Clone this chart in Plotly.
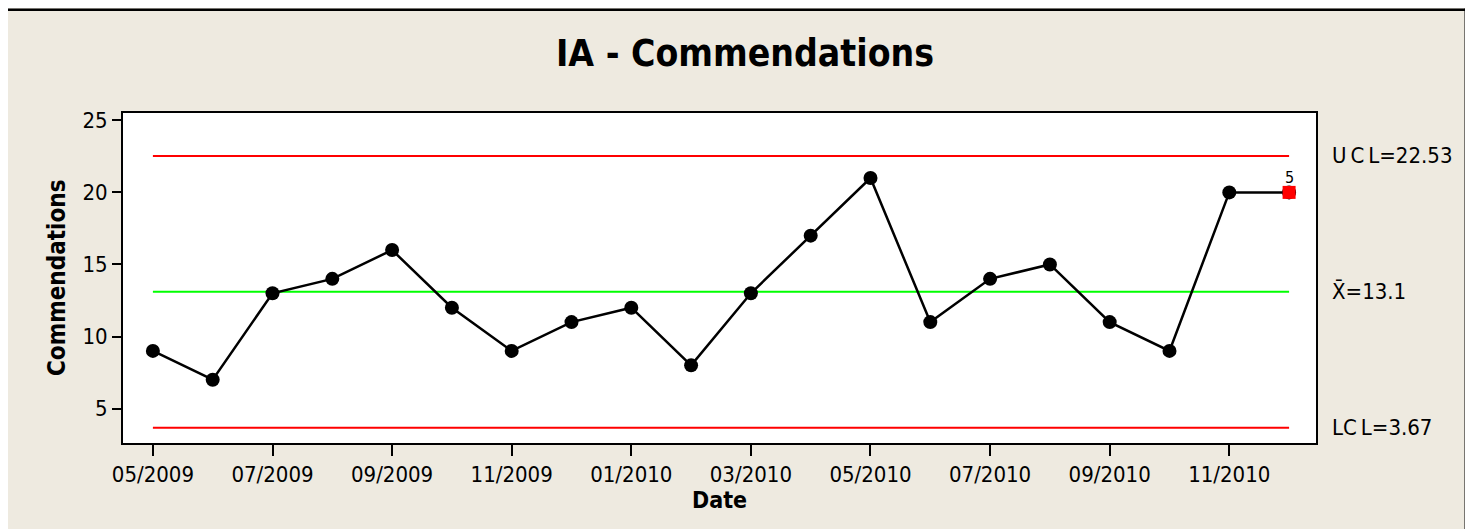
import plotly.graph_objects as go

# ---- data ----
dates = ["05/2009", "06/2009", "07/2009", "08/2009", "09/2009", "10/2009", "11/2009",
         "12/2009", "01/2010", "02/2010", "03/2010", "04/2010", "05/2010", "06/2010",
         "07/2010", "08/2010", "09/2010", "10/2010", "11/2010", "12/2010"]
values = [9, 7, 13, 14, 16, 12, 9, 11, 12, 8, 13, 17, 21, 11, 14, 15, 11, 9, 20, 20]
ucl = 22.53
center = 13.1
lcl = 3.67
failed_index = [19]
failed_test = ["5"]
tick_labels = dates[::2]
y_ticks = [5, 10, 15, 20, 25]

# ---- styling ----
OFF = 8                      # page body margin
PAGE_W, PAGE_H = 1473, 529
W, H = PAGE_W - OFF, PAGE_H - OFF
PL, PR, PT, PB = 123, 1316, 113, 443   # plot area in page pixels
L, R, T, B = PL - OFF, PAGE_W - PR, PT - OFF, PAGE_H - PB
PW, PH = PR - PL, PB - PT
BEIGE = "#EEEAE0"
FONT = "DejaVu Sans Condensed, DejaVu Sans, sans-serif"


def px_x(p):
    return (p - PL) / PW


def px_y(p):
    return (PB - p) / PH


fig = go.Figure()

# control lines
for val, col in [(ucl, "#FF0000"), (center, "#00FF00"), (lcl, "#FF0000")]:
    fig.add_trace(go.Scatter(x=[dates[0], dates[-1]], y=[val, val], mode="lines",
                             line=dict(color=col, width=2), hoverinfo="skip",
                             showlegend=False))

# data line
fig.add_trace(go.Scatter(x=dates, y=values, mode="lines+markers",
                         line=dict(color="black", width=2.5),
                         marker=dict(symbol="circle", size=14, color="black"),
                         showlegend=False))

# failed points
fig.add_trace(go.Scatter(x=[dates[i] for i in failed_index],
                         y=[values[i] for i in failed_index],
                         mode="markers", marker=dict(symbol="square", size=13, color="#FF0000"),
                         showlegend=False))

annotations = [
    dict(text="U\u2009C\u2009L=22.53", x=px_x(1330), y=ucl, xref="paper", yref="y",
         xanchor="left", yanchor="middle", showarrow=False,
         font=dict(family=FONT, size=22, color="black")),
    dict(text="X\u0304=13.1", x=px_x(1330), y=center, xref="paper", yref="y",
         xanchor="left", yanchor="middle", showarrow=False,
         font=dict(family=FONT, size=22, color="black")),
    dict(text="LC\u2009L=3.67", x=px_x(1330), y=lcl, xref="paper", yref="y",
         xanchor="left", yanchor="middle", showarrow=False,
         font=dict(family=FONT, size=22, color="black")),
    dict(text="<b>Commendations</b>", x=px_x(57), y=0.5, xref="paper", yref="paper",
         textangle=-90, xanchor="center", yanchor="middle", showarrow=False,
         font=dict(family=FONT, size=24, color="black")),
    dict(text="<b>Date</b>", x=0.5, y=px_y(500), xref="paper", yref="paper",
         xanchor="center", yanchor="middle", showarrow=False,
         font=dict(family=FONT, size=23, color="black")),
]
for i, t in zip(failed_index, failed_test):
    annotations.append(dict(text=t, x=dates[i], y=values[i], xref="x", yref="y",
                            xanchor="center", yanchor="bottom", yshift=3,
                            showarrow=False,
                            font=dict(family=FONT, size=16, color="black")))

shapes = [
    # white margin right of the frame
    dict(type="rect", xref="paper", yref="paper", x0=px_x(1467.5), x1=px_x(PAGE_W + 5),
         y0=px_y(PAGE_H + 5), y1=px_y(-5), fillcolor="white", line_width=0, layer="above"),
    # black frame
    dict(type="rect", xref="paper", yref="paper", x0=px_x(2.5), x1=px_x(1467.5),
         y0=px_y(11), y1=px_y(8.5), fillcolor="black", line_width=0, layer="above"),
    dict(type="rect", xref="paper", yref="paper", x0=px_x(1464.5), x1=px_x(1467.5),
         y0=px_y(PAGE_H + 5), y1=px_y(8.5), fillcolor="black", line_width=0, layer="above"),
]

fig.update_layout(
    width=W, height=H,
    margin=dict(l=L, r=R, t=T, b=B, pad=0),
    paper_bgcolor=BEIGE, plot_bgcolor="white",
    title=dict(text="<b>IA - Commendations</b>", x=(745 - OFF) / W, xanchor="center",
               y=1 - (53 - OFF) / H, yanchor="middle",
               font=dict(family=FONT, size=37, color="black")),
    xaxis=dict(type="category", categoryorder="array", categoryarray=dates,
               range=[-0.5, 19.45], tickmode="array", tickvals=tick_labels,
               ticktext=tick_labels, ticks="outside", ticklen=11, tickwidth=2,
               tickcolor="black", showline=True, linecolor="black", linewidth=2,
               mirror=True, showgrid=False, zeroline=False,
               tickfont=dict(family=FONT, size=22, color="black")),
    yaxis=dict(range=[2.61, 25.51], tickmode="array", tickvals=y_ticks,
               ticks="outside", ticklen=9, tickwidth=2, tickcolor="black",
               showline=True, linecolor="black", linewidth=2, mirror=True,
               showgrid=False, zeroline=False,
               tickfont=dict(family=FONT, size=22, color="black")),
    annotations=annotations,
    shapes=shapes,
    showlegend=False,
)

fig.write_html("out.html")
